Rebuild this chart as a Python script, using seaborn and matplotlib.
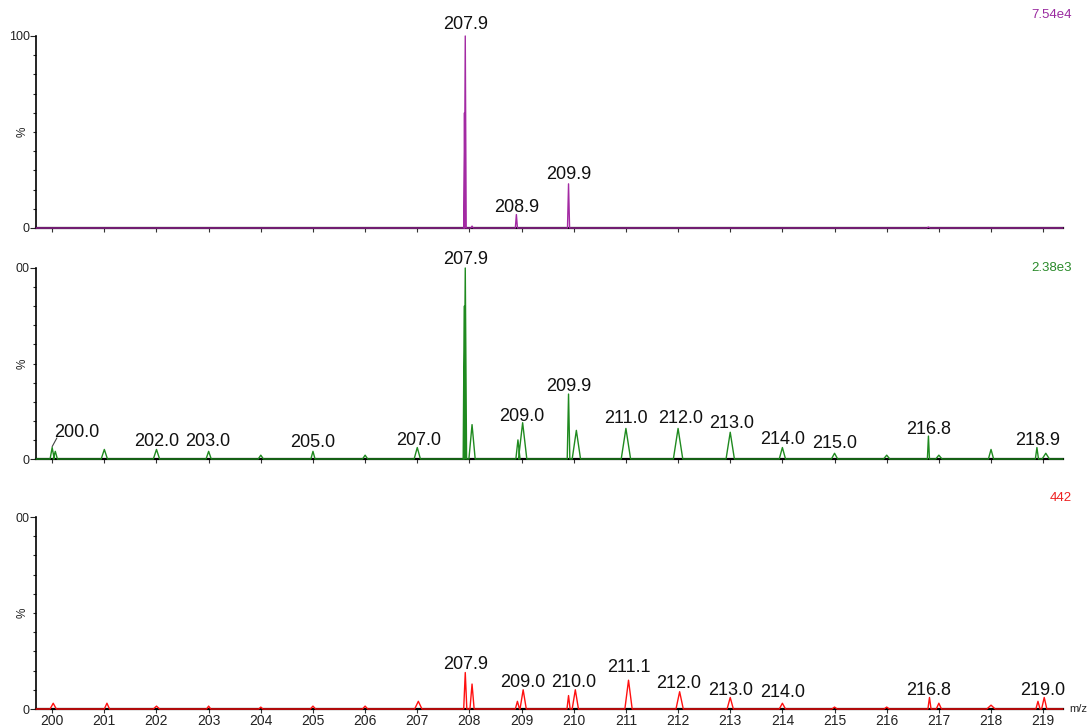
import numpy as np
import pandas as pd
import matplotlib
matplotlib.use("Agg")
import matplotlib.pyplot as plt
import seaborn as sns

# ---------------- data (peak lists) ----------------
# top trace (purple), max intensity 7.54e4
top_mz     = [207.905, 207.92, 208.05, 208.90, 209.90, 216.80]
top_int    = [60.0, 100.0, 1.0, 7.0, 23.0, 0.5]
top_width  = [0.012, 0.018, 0.02, 0.02, 0.02, 0.03]

# middle trace (green), max intensity 2.38e3
mid_mz    = [200.00, 200.06, 201.00, 202.00, 203.00, 204.00, 205.00, 206.00, 207.00,
             207.90, 207.92, 208.05, 208.93, 209.02, 209.90, 210.05, 211.00, 212.00,
             213.00, 214.00, 215.00, 216.00, 216.80, 217.00, 218.00, 218.88, 219.05]
mid_int   = [6.0, 4.0, 5.0, 5.0, 4.0, 2.0, 4.0, 2.0, 6.0,
             80.0, 100.0, 18.0, 10.0, 19.0, 34.0, 15.0, 16.0, 16.0,
             14.0, 6.0, 3.0, 2.0, 12.0, 2.0, 5.0, 6.0, 3.0]
mid_width = [0.04, 0.04, 0.06, 0.06, 0.05, 0.05, 0.04, 0.05, 0.06,
             0.02, 0.025, 0.06, 0.04, 0.08, 0.025, 0.08, 0.09, 0.09,
             0.08, 0.06, 0.06, 0.06, 0.02, 0.06, 0.05, 0.03, 0.07]

# bottom trace (red), max intensity 442
bot_mz    = [200.02, 201.05, 202.00, 203.00, 204.00, 205.00, 206.00, 207.02,
             207.92, 208.05, 208.92, 209.03, 209.90, 210.03, 211.05, 212.03,
             213.00, 214.00, 215.00, 216.00, 216.82, 217.00, 218.00, 218.90, 219.02]
bot_int   = [3.0, 3.0, 1.5, 1.5, 1.0, 1.5, 1.5, 4.0,
             19.0, 13.0, 4.0, 10.0, 7.0, 10.0, 15.0, 9.0,
             6.0, 3.0, 1.0, 1.0, 6.0, 3.0, 2.0, 4.0, 6.0]
bot_width = [0.06, 0.05, 0.06, 0.04, 0.04, 0.05, 0.05, 0.07,
             0.03, 0.04, 0.04, 0.06, 0.03, 0.06, 0.07, 0.07,
             0.06, 0.06, 0.05, 0.05, 0.03, 0.05, 0.08, 0.04, 0.05]

top_labels = ["207.9", "208.9", "209.9"]
mid_labels = ["200.0", "202.0", "203.0", "205.0", "207.0", "207.9", "209.0", "209.9",
              "211.0", "212.0", "213.0", "214.0", "215.0", "216.8", "218.9"]
bot_labels = ["207.9", "209.0", "210.0", "211.1", "212.0", "213.0", "214.0", "216.8", "219.0"]

scale_labels = ["7.54e4", "2.38e3", "442"]
x_ticks = list(range(200, 220))

# ---------------- layout of the labels (text position, in axis units) -------------
top_lab_pos = [(207.92, 103.6), (208.90, 8.3), (209.90, 25.5)]
mid_lab_pos = [(200.48, 11.5), (202.01, 6.8), (202.98, 6.8), (205.0, 6.3), (207.02, 7.3),
               (207.92, 102.0), (209.0, 20.0), (209.9, 35.6), (211.0, 18.8), (212.04, 18.8),
               (213.02, 16.2), (214.0, 7.9), (215.0, 5.8), (216.8, 13.0), (218.9, 7.3)]
bot_lab_pos = [(207.92, 20.8), (209.02, 11.5), (209.99, 11.5), (211.05, 19.3), (212.02, 10.9),
               (213.0, 7.3), (214.0, 6.3), (216.8, 7.3), (219.0, 7.3)]

XMIN, XMAX = 199.69, 219.38


def profile(mz, inten, width):
    xs, ys = [XMIN], [0.0]
    for m, h, w in sorted(zip(mz, inten, width)):
        xs += [m - w, m, m + w]
        ys += [0.0, h, 0.0]
    xs.append(XMAX)
    ys.append(0.0)
    return pd.DataFrame({"mz": xs, "pct": ys})


sns.set_style("white")
plt.rcParams["font.family"] = ["Liberation Sans", "DejaVu Sans"]

W, H = 1087, 728
fig = plt.figure(figsize=(W / 100, H / 100), dpi=100)

panels = [
    # (y px of 0, y px of 100, data, line colour, labels, label positions, scale, top label, scale colour, scale y px)
    (228, 36, (top_mz, top_int, top_width), "#a32aa3", top_labels, top_lab_pos, scale_labels[0], "100", "#9a2aa0", 15),
    (459, 268, (mid_mz, mid_int, mid_width), "#1f8a1f", mid_labels, mid_lab_pos, scale_labels[1], "00", "#2a8a2a", 268),
    (709, 517, (bot_mz, bot_int, bot_width), "#ff1010", bot_labels, bot_lab_pos, scale_labels[2], "00", "#ee2020", 498),
]

left_px, right_px = 36, 1063
for i, (y0, y100, (mz, it, wd), color, labels, lpos, scale, toplab, scol, sy) in enumerate(panels):
    ax = fig.add_axes([left_px / W, (H - y0) / H, (right_px - left_px) / W, (y0 - y100) / H])
    df = profile(mz, it, wd)
    sns.lineplot(data=df, x="mz", y="pct", ax=ax, sort=False, estimator=None,
                 color=color, linewidth=1.0, clip_on=False, zorder=5)
    ax.set_xlim(XMIN, XMAX)
    ax.set_ylim(0, 100)
    ax.set_xlabel("")
    ax.set_ylabel("")
    for s in ["top", "right"]:
        ax.spines[s].set_visible(False)
    ax.spines["left"].set_linewidth(1.2)
    ax.spines["bottom"].set_linewidth(1.6)
    ax.spines["left"].set_color("black")
    ax.spines["bottom"].set_color("black")

    ax.set_xticks(x_ticks)
    ax.tick_params(axis="x", direction="out", length=3, width=0.8, color="#333333",
                   labelsize=10, pad=0.5, labelcolor="#222222", bottom=True)
    if i < 2:
        ax.set_xticklabels([])
    ax.set_yticks([0, 100])
    ax.set_yticklabels(["0", toplab])
    ax.set_yticks(np.arange(10, 100, 10), minor=True)
    ax.tick_params(axis="y", which="major", direction="out", length=4, width=0.8,
                   labelsize=9, pad=0.5, labelcolor="#222222", left=True)
    ax.tick_params(axis="y", which="minor", direction="out", length=2.5, width=0.8, left=True)
    ax.text(-0.0135, 0.5, "%", rotation=90, transform=ax.transAxes, ha="center", va="center",
            fontsize=8.5, color="#222222")

    for lab, (lx, ly) in zip(labels, lpos):
        ax.text(lx, ly, lab, ha="center", va="baseline", fontsize=13, color="#111111",
                clip_on=False)
    ax.text((1072 - left_px) / (right_px - left_px), (y0 - sy) / (y0 - y100),
            scale, transform=ax.transAxes, ha="right", va="center", fontsize=9.5, color=scol)

    if i == 1:
        ax.plot([200.0, 200.09], [6.5, 11.0], color="#444444", linewidth=0.8)
    if i == 2:
        ax.text(1.006, 0.0, "m/z", transform=ax.transAxes, ha="left", va="center",
                fontsize=8, color="#222222")

fig.savefig("out.png", dpi=100)
